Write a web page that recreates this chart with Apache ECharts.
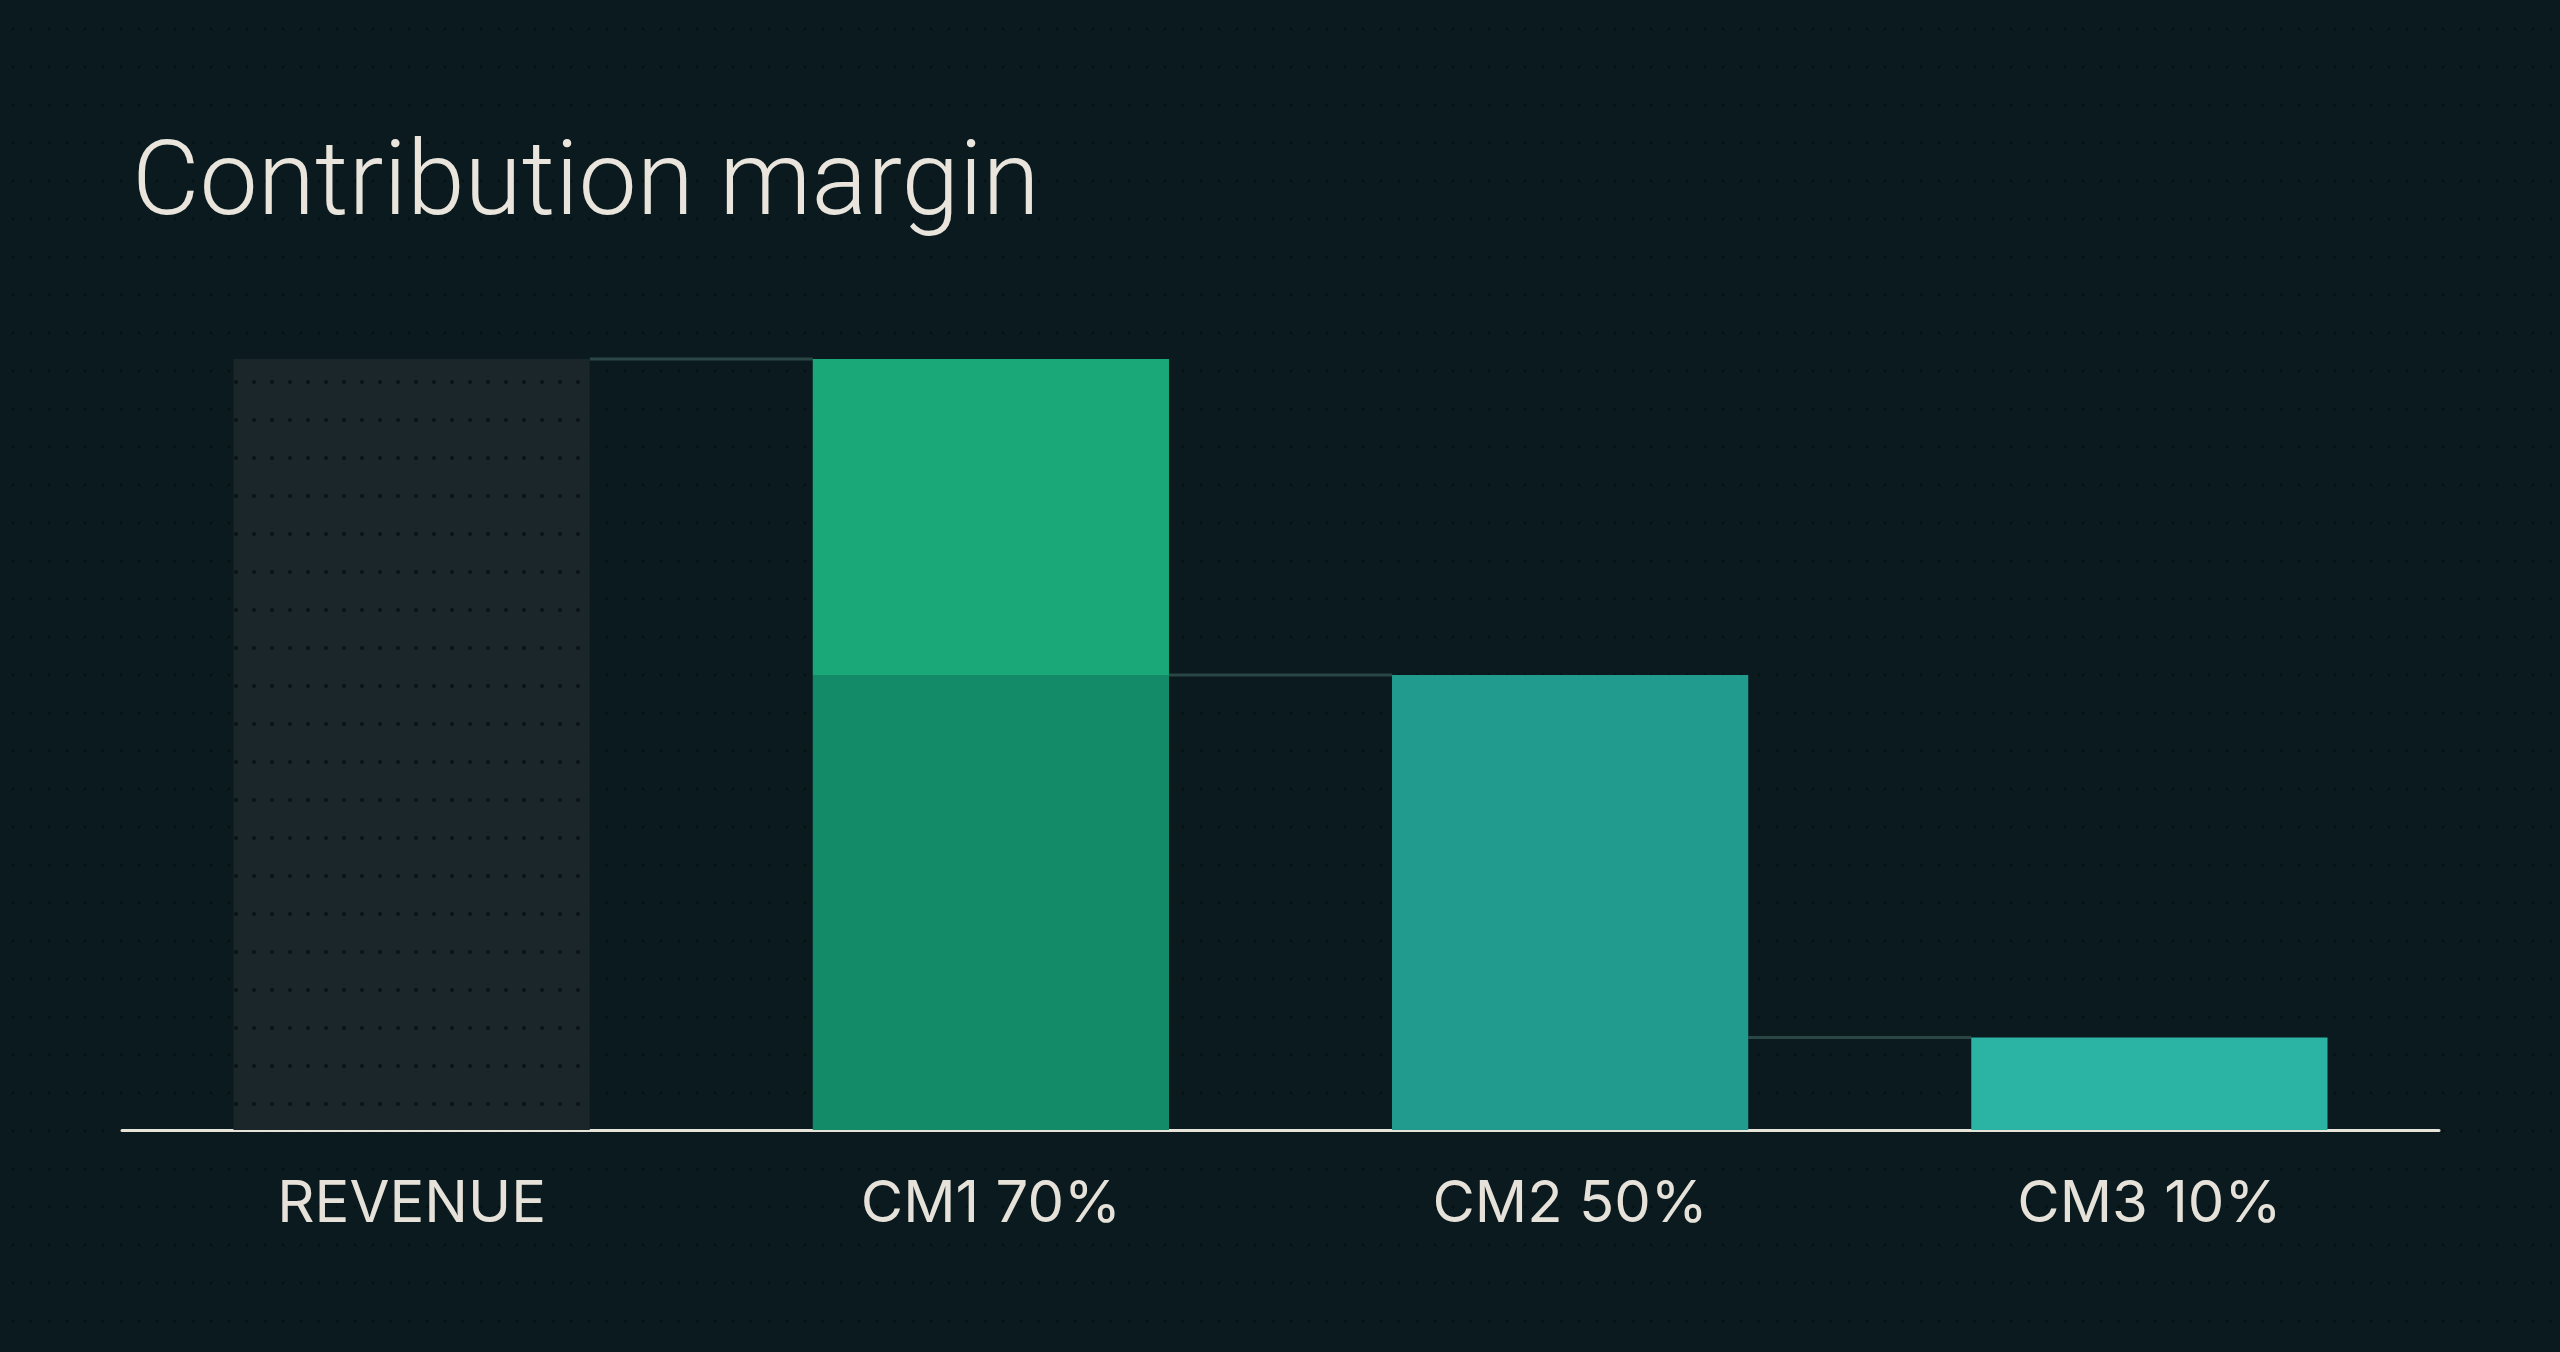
<!DOCTYPE html>
<html>
<head>
<meta charset="utf-8">
<script src="https://cdn.jsdelivr.net/npm/echarts@6/dist/echarts.min.js"></script>
<style>
html,body{margin:0;padding:0;}
body{
  background-color:#0a1a1e;
  background-image:radial-gradient(circle, rgba(3,10,12,0.55) 1.3px, transparent 1.8px);
  background-size:18px 38px;
  background-position:4px 10px;
}
#chart{width:2560px;height:1352px;}
</style>
</head>
<body>
<div id="chart"></div>
<script>
const titleText = 'Contribution margin';
const categories = ['REVENUE', 'CM1 70%', 'CM2 50%', 'CM3 10%'];
const baseValues = [100, 59, 59, 12];
const topValues = ['-', 41, '-', '-'];
const connectorLevels = [[0, 100], [1, 59], [2, 12]];
const baseColors = ['#1a2629', '#138b68', '#219b8e', '#2bb4a4'];
const topColor = '#1aa878';

const BAR_RATIO = 0.615;
const chart = echarts.init(document.getElementById('chart'));
chart.setOption({
  backgroundColor: 'transparent',
  animation: false,
  title: {
    text: titleText,
    left: 127,
    top: 131,
    textStyle: {
      color: '#e9e5dc',
      fontFamily: 'Roboto',
      fontWeight: 300,
      fontSize: 104
    }
  },
  grid: { left: 122, right: 121, top: 359, bottom: 222 },
  xAxis: {
    type: 'category',
    data: categories,
    axisLine: { lineStyle: { color: '#e6e3d8', width: 3 } },
    axisTick: { show: false },
    axisLabel: {
      color: '#e6e2da',
      fontFamily: 'Inter',
      fontSize: 58,
      margin: 46
    }
  },
  yAxis: {
    type: 'value', min: 0, max: 100, show: false,
    splitLine: { show: false }
  },
  series: [
    {
      type: 'custom',
      z: 1,
      renderItem: function (params, api) {
        const i = api.value(0), v = api.value(1);
        const p1 = api.coord([i, v]);
        const p2 = api.coord([i + 1, v]);
        const bw = api.size([1, 0])[0] * BAR_RATIO;
        return {
          type: 'line',
          shape: { x1: p1[0] + bw / 2, y1: p1[1], x2: p2[0] - bw / 2, y2: p2[1] },
          style: { stroke: '#2a4746', lineWidth: 3 }
        };
      },
      data: connectorLevels
    },
    {
      type: 'bar',
      stack: 'total',
      z: 2,
      barWidth: (BAR_RATIO * 100) + '%',
      data: baseValues.map(function (v, i) {
        const item = { value: v, itemStyle: { color: baseColors[i] } };
        if (i === 0) {
          item.itemStyle.decal = {
            symbol: 'circle',
            symbolSize: 1,
            dashArrayX: [[4, 14]],
            dashArrayY: [4, 34],
            color: 'rgba(5,13,16,0.75)'
          };
        }
        return item;
      })
    },
    {
      type: 'bar',
      stack: 'total',
      z: 2,
      barWidth: (BAR_RATIO * 100) + '%',
      itemStyle: { color: topColor },
      data: topValues
    }
  ]
});
</script>
</body>
</html>
